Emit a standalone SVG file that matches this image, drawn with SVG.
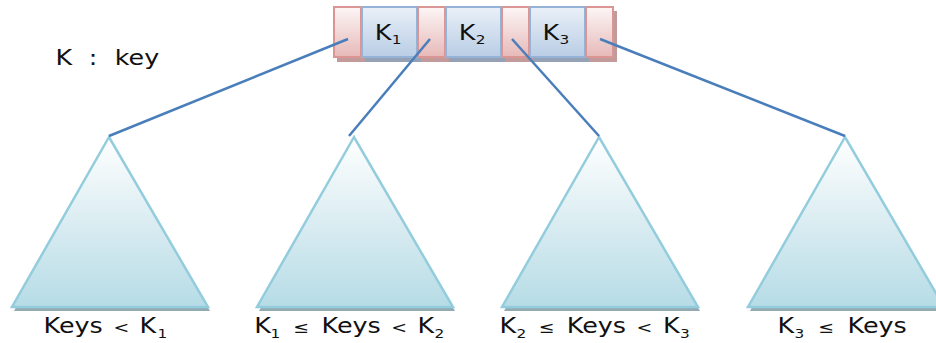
<svg xmlns="http://www.w3.org/2000/svg" width="936" height="343" viewBox="0 0 936 343">
  <defs>
    <linearGradient id="gPink" x1="0" y1="0" x2="0" y2="1">
      <stop offset="0" stop-color="#fdf6f6"/>
      <stop offset="1" stop-color="#e6b9b8"/>
    </linearGradient>
    <linearGradient id="gBlue" x1="0" y1="0" x2="0" y2="1">
      <stop offset="0" stop-color="#eaf0f8"/>
      <stop offset="1" stop-color="#b9cde5"/>
    </linearGradient>
    <linearGradient id="gTri" x1="0" y1="0" x2="0" y2="1">
      <stop offset="0" stop-color="#ffffff"/>
      <stop offset="0.6" stop-color="#d3e9ef"/>
      <stop offset="1" stop-color="#b6dce6"/>
    </linearGradient>
    <polygon id="tri" points="0,0 -97,170 99,170"/>
  </defs>
  <style>
    .pink { fill: url(#gPink); stroke: #d99694; stroke-width: 2; }
    .blue { fill: url(#gBlue); stroke: #95b3d7; stroke-width: 2; }
    .shp { fill: #c29a9a; }
    .shb { fill: #95a2b6; }
    .tri { fill: url(#gTri); stroke: #93cddd; stroke-width: 2.5; stroke-linejoin: miter; }
    .trish { fill: #92abb2; }
    .conn { stroke: #4a7ebb; stroke-width: 2.5; fill: none; }
    .t { font-family: "DejaVu Sans", Verdana, sans-serif; font-size: 21.5px; fill: #111; }
    .sub { font-size: 13px; }
    .op { font-size: 16px; }
  </style>

  <text class="t" transform="translate(0,65) scale(1.18,1)"><tspan x="47.1">K</tspan><tspan x="75.3">:</tspan><tspan x="97.3">key</tspan></text>

  <g id="node-root">
    <rect class="shp" x="337" y="11" width="28" height="51"/>
    <rect class="shb" x="365" y="11" width="56" height="51"/>
    <rect class="shp" x="421" y="11" width="28" height="51"/>
    <rect class="shb" x="449" y="11" width="56" height="51"/>
    <rect class="shp" x="505" y="11" width="28" height="51"/>
    <rect class="shb" x="533" y="11" width="56" height="51"/>
    <rect class="shp" x="589" y="11" width="28" height="51"/>
    <rect class="pink" x="334" y="7" width="27" height="50"/>
    <rect class="blue" x="362" y="7" width="55" height="50"/>
    <rect class="pink" x="418" y="7" width="27" height="50"/>
    <rect class="blue" x="446" y="7" width="55" height="50"/>
    <rect class="pink" x="502" y="7" width="27" height="50"/>
    <rect class="blue" x="530" y="7" width="55" height="50"/>
    <rect class="pink" x="586" y="7" width="27" height="50"/>
    <text class="t" transform="translate(0,40) scale(1.18,1)"><tspan x="317.5">K</tspan><tspan class="sub" x="331.9" dy="4">1</tspan></text>
    <text class="t" transform="translate(0,40) scale(1.18,1)"><tspan x="388.7">K</tspan><tspan class="sub" x="403.1" dy="4">2</tspan></text>
    <text class="t" transform="translate(0,40) scale(1.18,1)"><tspan x="459.8">K</tspan><tspan class="sub" x="474.2" dy="4">3</tspan></text>
  </g>

  <g id="subtree-1">
    <use href="#tri" class="trish" transform="translate(111,141)"/>
    <use href="#tri" class="tri" transform="translate(109,137)"/>
    <text class="t" transform="translate(0,333) scale(1.18,1)"><tspan x="36.9">Keys</tspan><tspan class="op" x="96.3">&lt;</tspan><tspan x="118.3">K</tspan><tspan class="sub" x="133.4" dy="5">1</tspan></text>
  </g>
  <g id="subtree-2">
    <use href="#tri" class="trish" transform="translate(356,141)"/>
    <use href="#tri" class="tri" transform="translate(354,137)"/>
    <text class="t" transform="translate(0,333) scale(1.18,1)"><tspan x="215.5">K</tspan><tspan class="sub" x="229.3" dy="5">1</tspan><tspan class="op" x="248.4" dy="-5">≤</tspan><tspan x="272.5">Keys</tspan><tspan class="op" x="331.5">&lt;</tspan><tspan x="353.9">K</tspan><tspan class="sub" x="368.3" dy="5">2</tspan></text>
  </g>
  <g id="subtree-3">
    <use href="#tri" class="trish" transform="translate(601,141)"/>
    <use href="#tri" class="tri" transform="translate(599,137)"/>
    <text class="t" transform="translate(0,333) scale(1.18,1)"><tspan x="423.4">K</tspan><tspan class="sub" x="437.8" dy="5">2</tspan><tspan class="op" x="456.3" dy="-5">≤</tspan><tspan x="480.4">Keys</tspan><tspan class="op" x="539.4">&lt;</tspan><tspan x="561.8">K</tspan><tspan class="sub" x="576.2" dy="5">3</tspan></text>
  </g>
  <g id="subtree-4">
    <use href="#tri" class="trish" transform="translate(847,141)"/>
    <use href="#tri" class="tri" transform="translate(845,137)"/>
    <text class="t" transform="translate(0,333) scale(1.18,1)"><tspan x="659.0">K</tspan><tspan class="sub" x="673.4" dy="5">3</tspan><tspan class="op" x="693.3" dy="-5">≤</tspan><tspan x="718.3">Keys</tspan></text>
  </g>

  <g id="connectors">
    <line class="conn" x1="348" y1="39" x2="109" y2="136"/>
    <line class="conn" x1="430" y1="39" x2="349" y2="136"/>
    <line class="conn" x1="512" y1="39" x2="599" y2="136"/>
    <line class="conn" x1="600" y1="39" x2="845" y2="136"/>
  </g>
</svg>
